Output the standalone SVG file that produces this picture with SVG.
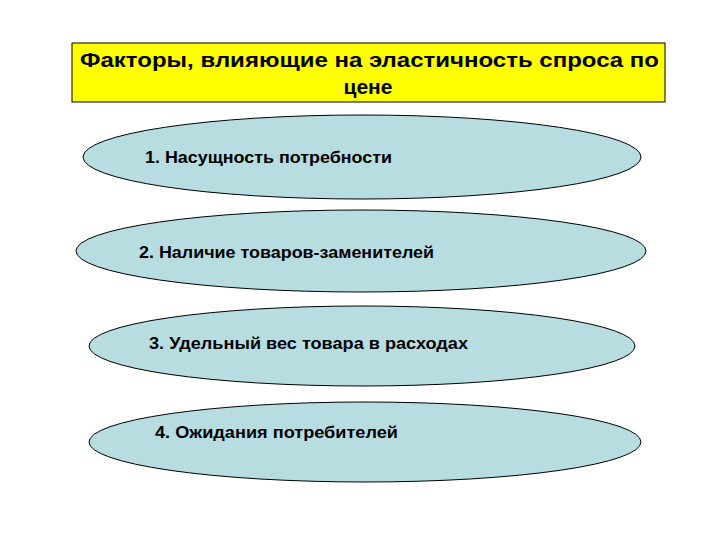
<svg xmlns="http://www.w3.org/2000/svg" width="720" height="540" viewBox="0 0 720 540">
<style>
.t{font-family:"Liberation Sans",Arial,sans-serif;font-weight:bold;fill:#000}
.e{fill:#b7dde1;stroke:#000;stroke-width:1}
</style>
<rect width="720" height="540" fill="#fff"/>
<g id="title">
<rect x="72" y="43" width="593" height="59" fill="#ffff00" stroke="#000" stroke-width="1"/>
<text class="t" x="80" y="67" font-size="21" textLength="579" lengthAdjust="spacingAndGlyphs">Факторы, влияющие на эластичность спроса по</text>
<text class="t" x="368" y="94" font-size="21" text-anchor="middle">цене</text>
</g>
<g id="n1"><ellipse class="e" cx="362" cy="157" rx="279" ry="42"/><text class="t" x="145" y="163" font-size="17" textLength="247" lengthAdjust="spacingAndGlyphs">1. Насущность потребности</text></g>
<g id="n2"><ellipse class="e" cx="361" cy="251" rx="285" ry="41"/><text class="t" x="139" y="258" font-size="17" textLength="295" lengthAdjust="spacingAndGlyphs">2. Наличие товаров-заменителей</text></g>
<g id="n3"><ellipse class="e" cx="362" cy="346" rx="273" ry="40"/><text class="t" x="149" y="349" font-size="17" textLength="319" lengthAdjust="spacingAndGlyphs">3. Удельный вес товара в расходах</text></g>
<g id="n4"><ellipse class="e" cx="365" cy="442" rx="276" ry="40"/><text class="t" x="155" y="438" font-size="17" textLength="243" lengthAdjust="spacingAndGlyphs">4. Ожидания потребителей</text></g>
<g id="connectors"/>
</svg>
